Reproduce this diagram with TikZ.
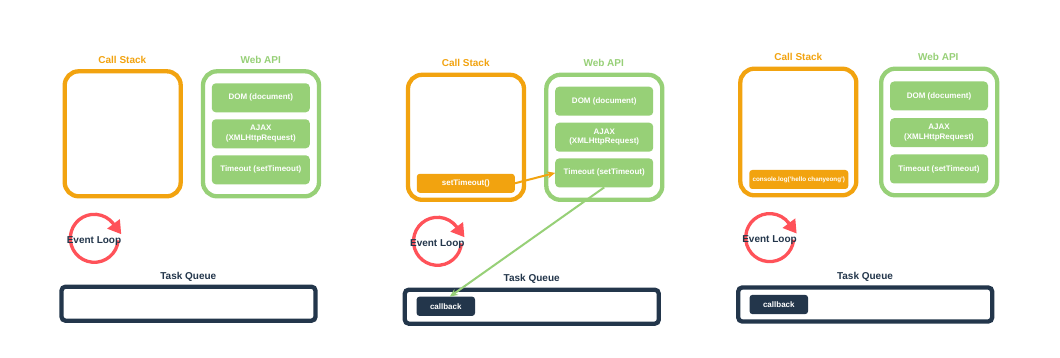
\documentclass[tikz,border=0pt]{standalone}
\usepackage{fontspec}
\setmainfont{Liberation Sans}
\usetikzlibrary{arrows.meta}
\definecolor{corange}{HTML}{F2A30F}
\definecolor{cgreen}{HTML}{97D077}
\definecolor{cnavy}{HTML}{23364B}
\definecolor{cred}{HTML}{FF5259}
\tikzset{
  csbox/.style={draw=corange, line width=4.3pt, rounded corners=14pt, minimum width=116pt, minimum height=125pt, inner sep=0pt, outer sep=0pt},
  wabox/.style={csbox, draw=cgreen},
  tqbox/.style={draw=cnavy, line width=4.3pt, rounded corners=4pt, minimum width=254pt, minimum height=34pt, inner sep=0pt, outer sep=0pt},
  apibox/.style={fill=cgreen, rounded corners=4pt, minimum width=98pt, minimum height=29pt, text=white, font=\bfseries\fontsize{8}{9.7}\selectfont, align=center, inner sep=0pt, outer sep=0pt},
  stackitem/.style={fill=corange, rounded corners=3pt, minimum width=98pt, minimum height=19pt, text=white, font=\bfseries\fontsize{8}{9.6}\selectfont, inner sep=0pt, outer sep=0pt},
  cbitem/.style={fill=cnavy, rounded corners=3pt, minimum width=58.5pt, minimum height=19.3pt, text=white, font=\bfseries\fontsize{8}{9.6}\selectfont, inner sep=0pt, outer sep=0pt},
  lbl/.style={font=\bfseries\fontsize{10}{12}\selectfont, text height=7.2pt, text depth=0pt, inner sep=0pt},
  cslbl/.style={lbl, text=corange},
  walbl/.style={lbl, text=cgreen},
  navylbl/.style={lbl, text=cnavy},
  elarc/.style={draw=cred, line width=3.3pt, -{Triangle[length=13pt,width=15pt]}},
  callarrow/.style={draw=corange, line width=2pt, -{Stealth[length=8pt,width=7pt,inset=2.5pt]}},
  cbarrow/.style={draw=cgreen, line width=2pt, -{Stealth[length=8pt,width=7pt,inset=2.5pt]}}
}
\begin{document}
\begin{tikzpicture}[x=1pt,y=1pt]
\useasboundingbox (0,0) rectangle (1060,-358);
\fill[white] (0,0) rectangle (1060,-358);

% ---------- Panel 1 ----------
\node[csbox] (cs1) at (122.7,-133.8) {};
\node[cslbl] (cs1l) at (122.3,-60) {Call Stack};
\node[wabox] (wa1) at (261,-133.8) {};
\node[walbl] (wa1l) at (260.7,-60) {Web API};
\node[apibox] (dom1) at (260.8,-97.8) {DOM (document)};
\node[apibox] (ajax1) at (260.8,-133.8) {AJAX\\(XMLHttpRequest)};
\node[apibox] (to1) at (260.8,-169.8) {Timeout (setTimeout)};
\coordinate (el1c) at (94.3,-238.3);
\draw[elarc] (el1c) ++(-5:24) arc[start angle=-5, end angle=-323, radius=24] -- ++(7.8,-10.4);
\node[navylbl] (el1) at (94,-240) {Event Loop};
\node[navylbl] (tq1l) at (188.3,-275.7) {Task Queue};
\node[tqbox] (tq1) at (188.5,-303.7) {};

% ---------- Panel 2 ----------
\node[csbox] (cs2) at (466,-137.3) {};
\node[cslbl] (cs2l) at (465.7,-62.7) {Call Stack};
\node[wabox] (wa2) at (604.3,-137.3) {};
\node[walbl] (wa2l) at (603.7,-62.7) {Web API};
\node[apibox] (dom2) at (604.2,-101.2) {DOM (document)};
\node[apibox] (ajax2) at (604.2,-137.2) {AJAX\\(XMLHttpRequest)};
\node[apibox] (to2) at (604.2,-172.9) {Timeout (setTimeout)};
\node[stackitem] (st2) at (465.8,-183.3) {setTimeout()};
\coordinate (el2c) at (437.5,-241.3);
\draw[elarc] (el2c) ++(-5:24) arc[start angle=-5, end angle=-323, radius=24] -- ++(7.8,-10.4);
\node[navylbl] (el2) at (437.3,-243) {Event Loop};
\node[navylbl] (tq2l) at (531.7,-278.3) {Task Queue};
\node[tqbox] (tq2) at (531.8,-306.7) {};
\node[cbitem] (cb2) at (445.8,-306.3) {callback};
\draw[callarrow] (st2.east) -- (to2.west);
\draw[cbarrow] (to2.south) -- ([xshift=4pt]cb2.north);

% ---------- Panel 3 ----------
\node[csbox, minimum height=126.6pt] (cs3) at (798.3,-132) {};
\node[cslbl] (cs3l) at (798.3,-57.3) {Call Stack};
\node[wabox, minimum height=126.6pt] (wa3) at (939.2,-132) {};
\node[walbl] (wa3l) at (938.3,-57.3) {Web API};
\node[apibox] (dom3) at (939,-96) {DOM (document)};
\node[apibox] (ajax3) at (939,-132.7) {AJAX\\(XMLHttpRequest)};
\node[apibox] (to3) at (939,-169) {Timeout (setTimeout)};
\node[stackitem, minimum width=99pt, font=\bfseries\fontsize{6.3}{7.5}\selectfont] (cl3) at (798.8,-179.5) {console.log('hello chanyeong')};
\coordinate (el3c) at (769.7,-237.6);
\draw[elarc] (el3c) ++(-5:24) arc[start angle=-5, end angle=-323, radius=24] -- ++(7.8,-10.4);
\node[navylbl] (el3) at (769.5,-239.3) {Event Loop};
\node[navylbl] (tq3l) at (865,-276) {Task Queue};
\node[tqbox] (tq3) at (865.2,-304.5) {};
\node[cbitem] (cb3) at (778.8,-304.5) {callback};
\end{tikzpicture}
\end{document}
